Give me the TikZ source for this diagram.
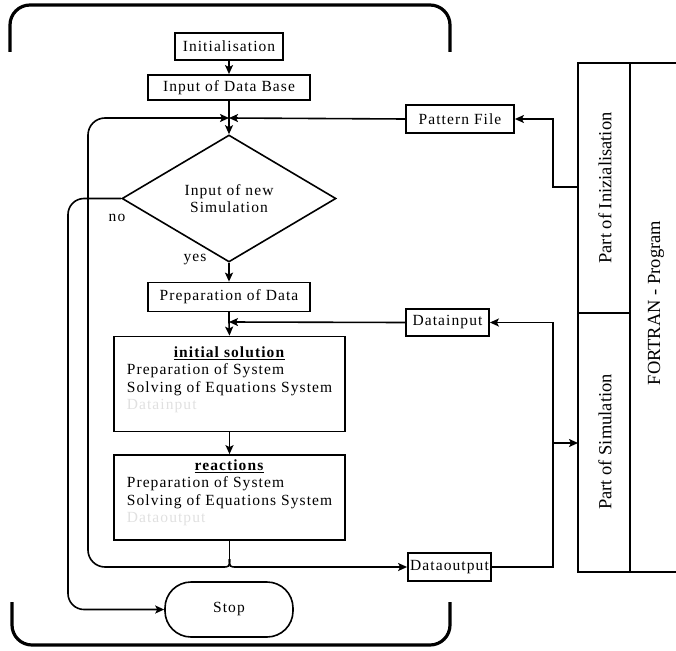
\documentclass[tikz,border=0pt]{standalone}
\usepackage{fontspec}
\setmainfont{Liberation Serif}
\newfontfamily\spaced{Liberation Serif}[LetterSpace=7]
\usetikzlibrary{arrows.meta,shapes.geometric}
\begin{document}
\begin{tikzpicture}[x=1pt,y=-1pt,
  box/.style={draw,line width=1.8pt,inner sep=0pt,font=\spaced\fontsize{15.5}{17.5}\selectfont},
  conn/.style={line width=1.6pt},
  arr/.style={conn,-{Stealth[length=9pt,width=8pt,inset=2pt]}},
  frame/.style={line width=3.2pt,rounded corners=20pt},
  panel/.style={line width=2pt},
  lbl/.style={font=\spaced\fontsize{15.5}{17.5}\selectfont},
  side/.style={font=\fontsize{18.5}{20}\selectfont,rotate=90,inner sep=0pt}]
\useasboundingbox (0,0) rectangle (676,650);

% frame brackets
\draw[frame] (10,52) -- (10,5) -- (450,5) -- (450,52);
\draw[frame] (12,602) -- (12,645) -- (450,645) -- (450,602);

% right panel
\draw[panel] (676,63) -- (578,63) -- (578,572) -- (676,572);
\draw[panel] (630,63) -- (630,572);
\draw[panel] (578,313) -- (630,313);
\node[side] (pinit) at (605,188) {Part of Inizialisation};
\node[side] (psim) at (605,442) {Part of Simulation};
\node[side] (fort) at (656,303) {FORTRAN - Program};
\coordinate (pi) at (578,187);
\coordinate (ps) at (578,443);

% flow nodes
\node[box,minimum width=108pt,minimum height=27pt] (init) at (229,46.5) {Initialisation};
\node[box,minimum width=162pt,minimum height=25pt] (idb) at (229,87.5) {Input of Data Base};
\coordinate (j1) at (229,118);
\node[draw,diamond,line width=1.6pt,minimum width=214pt,minimum height=127pt,inner sep=0pt,aspect=1.7,lbl,align=center] (dec) at (229,198.5) {Input of new\\Simulation};
\node[box,minimum width=162pt,minimum height=29pt] (prep) at (229,297) {Preparation of Data};
\coordinate (j2) at (229,322);

\node[box,minimum width=231pt,minimum height=95pt] (sol) at (229.5,384) {};
\node[lbl,anchor=north,inner sep=0pt] (soltxt) at (229.5,345) {\begin{tabular}{@{}l@{}}\multicolumn{1}{@{}c@{}}{\underline{\textbf{initial solution}}}\\ Preparation of System\\ Solving of Equations System\\ \textcolor{black!12}{Datainput}\end{tabular}};

\node[box,minimum width=231pt,minimum height=85pt] (reac) at (229.5,497.5) {};
\node[lbl,anchor=north,inner sep=0pt] (reactxt) at (229.5,458) {\begin{tabular}{@{}l@{}}\multicolumn{1}{@{}c@{}}{\underline{\textbf{reactions}}}\\ Preparation of System\\ Solving of Equations System\\ \textcolor{black!12}{Dataoutput}\end{tabular}};

\node[draw,line width=1.6pt,rounded corners=26pt,minimum width=128pt,minimum height=55pt,lbl] (stop) at (229,609.5) {Stop};

\node[box,minimum width=108pt,minimum height=28pt] (pat) at (460,119) {Pattern File};
\node[box,minimum width=83pt,minimum height=27pt] (din) at (447.5,322.5) {Datainput};
\node[box,minimum width=83pt,minimum height=28pt] (dout) at (449.5,567) {Dataoutput};

\node[lbl] (no) at (117,218) {no};
\node[lbl] (yes) at (195,260) {yes};

% connectors
\draw[arr] (init) -- (idb);
\draw[conn] (idb) -- (j1);
\draw[arr] (j1) -- (dec.north);
\draw[arr] (pat.west) -- (j1);
\draw[arr] (pi) -- (553,187) -- (553,119) -- (pat.east);
\draw[arr,rounded corners=16pt] (dec.west) -- (68,198.5) -- (68,609.5) -- (stop.west);
\draw[arr] (dec.south) -- (prep.north);
\draw[conn] (prep) -- (j2);
\draw[arr] (j2) -- (sol.north);
\draw[arr] (din.west) -- (j2);
\draw[arr] (sol.south) -- (reac.north);
\coordinate (br) at (229.5,559);
\draw[conn] (reac.south) -- (br);
\draw[arr] (br) .. controls (229.5,567) .. (222,567) [rounded corners=17pt] -- (88,567) -- (88,118) -- (j1);
\draw[arr] (br) .. controls (229.5,567) .. (237,567) -- (dout.west);
\draw[arr] (dout.east) -- (553,567) -- (553,322.5) -- (din.east);
\draw[arr] (553,443) -- (ps);
\end{tikzpicture}
\end{document}
